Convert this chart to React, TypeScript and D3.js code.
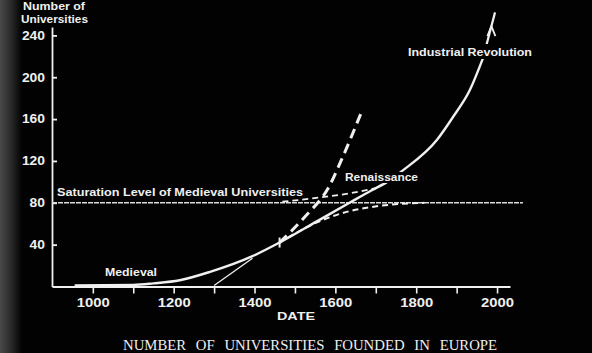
import React, { useRef, useEffect } from "react";
import * as d3 from "d3";

// axis ticks
const tickYears = [1000, 1100, 1200, 1300, 1400, 1500, 1600, 1700, 1800, 1900, 2000];
const labelYears = [1000, 1200, 1400, 1600, 1800, 2000];
const countTicks = [40, 80, 120, 160, 200, 240];

// main growth curve (medieval -> renaissance -> industrial revolution)
const growthYears = [955, 1100, 1150, 1215, 1290, 1395, 1462, 1553, 1635, 1690, 1728, 1767, 1851, 1891, 1933, 1965];
const growthCounts = [1, 1.5, 3, 6, 14, 29, 42, 62, 80, 92, 100, 111, 140, 162, 188, 218];

// arrow continuing past the label
const arrowYears = [1965, 1995];
const arrowCounts = [218, 262];

// thin straight tangent at the start of the medieval rise
const tangentYears = [1300, 1395];
const tangentCounts = [1, 27];

// dashed: medieval logistic flattening to saturation
const medievalSatYears = [1462, 1553, 1635, 1709, 1820];
const medievalSatCounts = [42, 61, 72, 77, 80];

// dashed: renaissance onset, rising from the saturation level
const renaissanceYears = [1469, 1560, 1635, 1700];
const renaissanceCounts = [81, 85, 89, 94];

// bold dashed: exponential extrapolation
const expYears = [1462, 1523, 1585, 1615, 1667];
const expCounts = [42, 66, 96, 121, 169];

// saturation level of medieval universities
const saturationYears = [899, 2064];
const saturationLevel = 80;

const W = 592;
const H = 353;
const ink = "#f0f0f0";
const sans = "'Liberation Sans', Arial, sans-serif";

const x = d3.scaleLinear().domain([899, 2032]).range([52, 510]);
const y = d3.scaleLinear().domain([0, 248]).range([286.5, 27]);

const zip = (xs: number[], ys: number[]): [number, number][] => xs.map((v, i) => [v, ys[i]]);

const line = d3
  .line<[number, number]>()
  .x(d => x(d[0]))
  .y(d => y(d[1]))
  .curve(d3.curveMonotoneX);

const straight = d3
  .line<[number, number]>()
  .x(d => x(d[0]))
  .y(d => y(d[1]));

const App: React.FC = () => {
  const xAxisRef = useRef<SVGGElement>(null);
  const yAxisRef = useRef<SVGGElement>(null);

  useEffect(() => {
    // x axis: ticks hang below the baseline, labels every 200 years
    const gx = d3.select(xAxisRef.current);
    gx.call(
      d3
        .axisBottom(x)
        .tickValues(tickYears)
        .tickSize(7)
        .tickSizeOuter(0)
        .tickPadding(5)
        .tickFormat(d => (labelYears.includes(+d) ? String(d) : ""))
    );
    gx.attr("font-family", sans).attr("font-size", 12).attr("font-weight", "bold");
    gx.select(".domain").attr("stroke", ink).attr("stroke-width", 1.8);
    gx.selectAll(".tick line").attr("stroke", ink).attr("stroke-width", 1.6);
    gx.selectAll<SVGTextElement, number>(".tick text")
      .attr("fill", ink)
      .attr("textLength", d => (labelYears.includes(d) ? 33 : null))
      .attr("lengthAdjust", "spacingAndGlyphs");

    // y axis: short ticks pointing into the plot, labels to the left
    const gy = d3.select(yAxisRef.current);
    gy.call(d3.axisLeft(y).tickValues(countTicks).tickSize(-5).tickSizeOuter(0).tickPadding(7));
    gy.attr("font-family", sans).attr("font-size", 12).attr("font-weight", "bold");
    gy.select(".domain").attr("stroke", ink).attr("stroke-width", 1.8);
    gy.selectAll(".tick line").attr("stroke", ink).attr("stroke-width", 1.8);
    gy.selectAll<SVGTextElement, number>(".tick text")
      .attr("fill", ink)
      .attr("textLength", d => String(d).length * 7.7)
      .attr("lengthAdjust", "spacingAndGlyphs");
  }, []);

  const tip = [x(arrowYears[1]), y(arrowCounts[1])];
  const tail = [x(arrowYears[0]), y(arrowCounts[0])];
  const fork = [tip[0] + (tail[0] - tip[0]) * 0.3, tip[1] + (tail[1] - tip[1]) * 0.3];

  const label = (txt: string, lx: number, ly: number, len: number, anchor = "start") => (
    <text
      x={lx}
      y={ly}
      fill={ink}
      fontFamily={sans}
      fontSize={11}
      fontWeight="bold"
      textAnchor={anchor}
      textLength={len}
      lengthAdjust="spacingAndGlyphs"
    >
      {txt}
    </text>
  );

  return (
    <>
      <style>{"body{margin:0;background:#000}"}</style>
      <svg width={W} height={H} style={{ display: "block", background: "#020202" }}>
        <defs>
          <linearGradient id="edge" x1="0" x2="1" y1="0" y2="0">
            <stop offset="0" stopColor="#4a4a4a" />
            <stop offset="0.5" stopColor="#2a2a2a" />
            <stop offset="1" stopColor="#020202" />
          </linearGradient>
        </defs>
        <rect width={22} height={H} fill="url(#edge)" />

        <g ref={xAxisRef} transform={`translate(0, ${y(0)})`} />
        <g ref={yAxisRef} transform={`translate(${x(899)}, 0)`} />

        {/* saturation level */}
        <path
          d={straight(zip(saturationYears, saturationYears.map(() => saturationLevel))) ?? ""}
          fill="none"
          stroke="#dcdcdc"
          strokeWidth={1.6}
          strokeDasharray="5 1"
        />

        {/* tangent */}
        <path d={straight(zip(tangentYears, tangentCounts)) ?? ""} fill="none" stroke={ink} strokeWidth={1.3} />

        {/* medieval saturation dashed */}
        <path
          d={line(zip(medievalSatYears, medievalSatCounts)) ?? ""}
          fill="none"
          stroke={ink}
          strokeWidth={2}
          strokeDasharray="6 4"
        />

        {/* renaissance onset dashed */}
        <path
          d={line(zip(renaissanceYears, renaissanceCounts)) ?? ""}
          fill="none"
          stroke={ink}
          strokeWidth={1.8}
          strokeDasharray="6 4"
        />

        {/* exponential extrapolation */}
        <path
          d={line(zip(expYears, expCounts)) ?? ""}
          fill="none"
          stroke={ink}
          strokeWidth={3}
          strokeDasharray="10 6"
        />

        {/* main growth curve */}
        <path d={line(zip(growthYears, growthCounts)) ?? ""} fill="none" stroke={ink} strokeWidth={2.4} />

        {/* arrow */}
        <path d={straight(zip(arrowYears, arrowCounts)) ?? ""} fill="none" stroke={ink} strokeWidth={2.2} />
        <path
          d={`M${fork[0] - 4},${fork[1] + 10}L${fork[0]},${fork[1]}L${fork[0] + 4},${fork[1] + 10}`}
          fill="none"
          stroke={ink}
          strokeWidth={1.8}
        />

        {/* marker where the curves part */}
        <path
          d={`M${x(1462)},${y(42) - 5}V${y(42) + 5}`}
          stroke={ink}
          strokeWidth={2}
        />

        {/* labels */}
        {label("Number of", 23, 10, 62)}
        {label("Universities", 21, 23, 67)}
        {label("Saturation Level of Medieval Universities", 57, 196, 246)}
        {label("Medieval", 105, 276, 52)}
        <rect x={343} y={172} width={78} height={11} fill="#020202" />
        {label("Renaissance", 345, 181, 73)}
        <rect x={405} y={44} width={130} height={15} fill="#020202" />
        {label("Industrial Revolution", 408, 56, 124)}
        {label("DATE", 296, 320, 38, "middle")}

        <text
          x={123}
          y={350}
          fill={ink}
          fontFamily="'Liberation Serif', 'Times New Roman', serif"
          fontSize={14.5}
          wordSpacing={6}
          textLength={374}
          lengthAdjust="spacingAndGlyphs"
        >
          NUMBER OF UNIVERSITIES FOUNDED IN EUROPE
        </text>
      </svg>
    </>
  );
};

export default App;
